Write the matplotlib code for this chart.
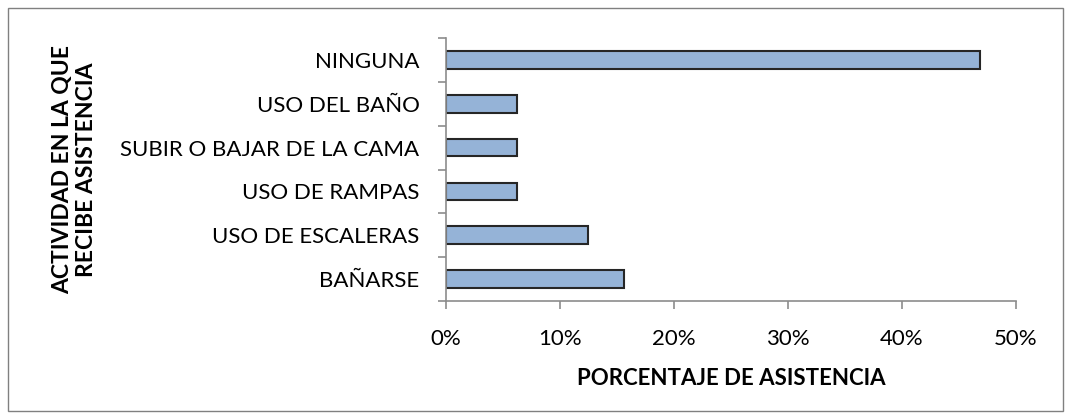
import matplotlib.pyplot as plt
import numpy as np
from matplotlib.ticker import PercentFormatter, FixedLocator
from matplotlib.patches import Rectangle

plt.rcParams['font.family'] = ['Lato', 'DejaVu Sans']

categorias = ["BAÑARSE", "USO DE ESCALERAS", "USO DE RAMPAS",
              "SUBIR O BAJAR DE LA CAMA", "USO DEL BAÑO", "NINGUNA"]
porcentajes = [15.625, 12.5, 6.25, 6.25, 6.25, 46.875]
xticks = [0, 10, 20, 30, 40, 50]

fig = plt.figure(figsize=(10.71, 4.19), dpi=100)
ax = fig.add_axes([0.4164, 0.2816, 0.5323, 0.6277])

y = np.arange(len(categorias))
ax.barh(y, porcentajes, height=0.4, color="#95B3D7", edgecolor="#262626", linewidth=1.5)

ax.set_xlim(0, 50)
ax.set_ylim(-0.5, len(categorias) - 0.5)
ax.set_xticks(xticks)
ax.xaxis.set_major_formatter(PercentFormatter(decimals=0))
ax.set_yticks(y)
ax.set_yticklabels(categorias)
ax.yaxis.set_minor_locator(FixedLocator(np.arange(-0.5, len(categorias), 1)))

gris = "#8c8c8c"
for s in ["top", "right"]:
    ax.spines[s].set_visible(False)
for s in ["left", "bottom"]:
    ax.spines[s].set_color(gris)
    ax.spines[s].set_linewidth(1.2)

ax.tick_params(axis="y", which="major", length=0, pad=19, labelsize=16, colors="#000000")
ax.tick_params(axis="y", which="minor", length=6, width=1.2, color=gris, direction="out")
ax.tick_params(axis="x", which="major", length=6, width=1.2, color=gris, pad=14, labelsize=16)

ax.set_xlabel("PORCENTAJE DE ASISTENCIA", fontsize=16, fontweight="bold", labelpad=14)
ax.set_ylabel("ACTIVIDAD EN LA QUE\nRECIBE ASISTENCIA", fontsize=16.5, fontweight="bold",
              linespacing=1.15)
ax.yaxis.set_label_coords(-0.612, 0.5)

fig.patches.append(Rectangle((8 / 1071, 8 / 419), 1 - 16 / 1071, 1 - 16 / 419,
                             transform=fig.transFigure, fill=False, edgecolor="#808080", linewidth=1))

fig.savefig("out.png", dpi=100)
